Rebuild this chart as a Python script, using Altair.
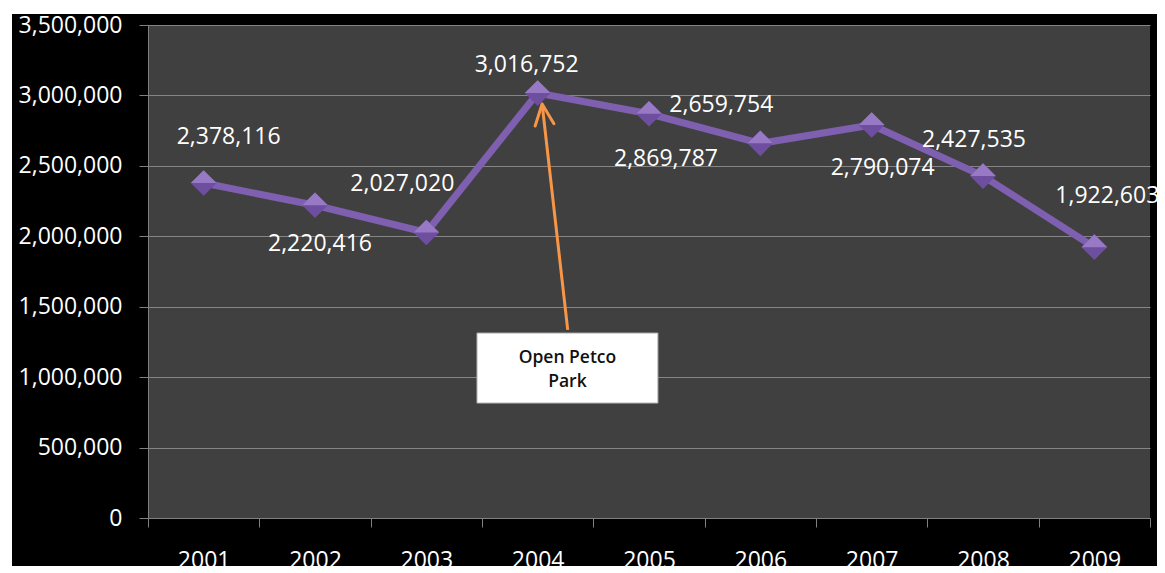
import altair as alt
import pandas as pd

# ---- data ----
years = ["2001", "2002", "2003", "2004", "2005", "2006", "2007", "2008", "2009"]
attendance = [2378116, 2220416, 2027020, 3016752, 2869787, 2659754, 2790074, 2427535, 1922603]
y_ticks = [0, 500000, 1000000, 1500000, 2000000, 2500000, 3000000, 3500000]

# label offsets (pixels) for the value labels, as placed in the original
label_dx = [25, 5, -24, -11, 17, -39, 11, -9, 13]
label_dy = [-46, 39, -48, -28, 45, -38, 43, -36, -51]

# annotation (in data units: year / attendance)
note_lines = ["Open Petco", "Park"]
note_box = {"x1": 2003.455, "x2": 2005.08, "y1": 816000, "y2": 1313000}
arrow = {"x": 2004.27, "y": 1335000, "x2": 2004.04, "y2": 2939000}

W, H = 1002, 493
FONT = "Open Sans"
PURPLE = "#7F5FAF"
ORANGE = "#F79646"

y_axis = alt.Axis(
    values=y_ticks, labelExpr="format(datum.value, ',')", grid=True, gridColor="#858585",
    gridWidth=1, tickSize=9, tickColor="#808080", domainColor="#808080",
    labelColor="white", labelFont=FONT, labelFontSize=23, labelPadding=17, title=None,
)
y_scale = alt.Scale(domain=[0, 3500000], nice=False, zero=True)


def Y(field):
    return alt.Y(field, title=None, scale=y_scale, axis=y_axis)


df = pd.DataFrame({"year": years, "attendance": attendance})
base = alt.Chart(df)

xenc = alt.X(
    "year:O",
    title=None,
    scale=alt.Scale(type="band", paddingInner=0, paddingOuter=0),
    axis=alt.Axis(
        labelAngle=0, tickBand="extent", grid=False, tickSize=9,
        tickColor="#808080", domainColor="#808080", labelColor="white",
        labelFont=FONT, labelFontSize=23, labelPadding=22,
    ),
)

line = base.mark_line(color=PURPLE, strokeWidth=7).encode(x=xenc, y=Y("attendance:Q"))
pts = base.mark_point(shape="diamond", size=660, filled=True, color="#6E4E9E", opacity=1).encode(
    x=xenc, y=Y("attendance:Q"))
pts_hi = base.mark_point(shape="M -1 0 L 0 -1 L 1 0 Z", size=660, filled=True,
                         color="#9779C6", opacity=1).encode(x=xenc, y=Y("attendance:Q"))

labels = []
for i, yr in enumerate(years):
    labels.append(
        base.transform_filter(alt.datum.year == yr)
        .mark_text(dx=label_dx[i], dy=label_dy[i], align="center", baseline="middle",
                   font=FONT, fontSize=23, color="white")
        .encode(x=xenc, y=Y("attendance:Q"), text=alt.Text("attendance:Q", format=","))
    )

main = alt.layer(line, pts, pts_hi, *labels)

# ---- annotation layer (own quantitative x scale) ----
xq = alt.Scale(domain=[2000.5, 2009.5], nice=False, zero=False)
box_df = pd.DataFrame([note_box])
box = alt.Chart(box_df).mark_rect(fill="white", stroke="#b0b0b0", strokeWidth=1).encode(
    x=alt.X("x1:Q", scale=xq, axis=None), x2="x2:Q",
    y=Y("y1:Q"), y2="y2:Q")
txt_df = pd.DataFrame({"x": [(note_box["x1"] + note_box["x2"]) / 2],
                       "y": [(note_box["y1"] + note_box["y2"]) / 2],
                       "t": [note_lines]})
txt = alt.Chart(txt_df).mark_text(font=FONT, fontSize=17.5, fontWeight=600, color="#111111",
                                  lineHeight=24, baseline="middle", align="center", dy=-10).encode(
    x=alt.X("x:Q", scale=xq, axis=None), y=Y("y:Q"), text="t")
arr_df = pd.DataFrame([arrow])
shaft = alt.Chart(arr_df).mark_rule(color=ORANGE, strokeWidth=3).encode(
    x=alt.X("x:Q", scale=xq, axis=None), x2="x2:Q",
    y=Y("y:Q"), y2="y2:Q")
head = alt.Chart(arr_df).mark_point(shape="M -0.45 1 L 0 0 L 0.45 1", size=1764, filled=False,
                                    stroke=ORANGE, strokeWidth=3, opacity=1, angle=353.4,
                                    strokeCap="round", strokeJoin="round").encode(
    x=alt.X("x2:Q", scale=xq, axis=None), y=Y("y2:Q"))
ann = alt.layer(box, txt, shaft, head)

# white page strips (the original image has a thin white margin top/left)
strip_df = pd.DataFrame({"k": [0]})
strip_left = alt.Chart(strip_df).mark_rect(color="white", clip=False).encode(
    x=alt.value(-140), x2=alt.value(-136), y=alt.value(-17), y2=alt.value(H + 60))
strip_top = alt.Chart(strip_df).mark_rect(color="white", clip=False).encode(
    x=alt.value(-140), x2=alt.value(W + 10), y=alt.value(-17), y2=alt.value(-11))

chart = (
    alt.layer(main, ann, strip_left, strip_top)
    .resolve_scale(x="independent")
    .properties(width=W, height=H, background="black",
                padding={"left": 140, "top": 17, "right": 7, "bottom": 48},
                autosize=alt.AutoSizeParams(type="none"))
    .configure_view(fill="#404040", stroke=None)
)

chart.save("out.html", embed_options={"renderer": "svg", "actions": False})
